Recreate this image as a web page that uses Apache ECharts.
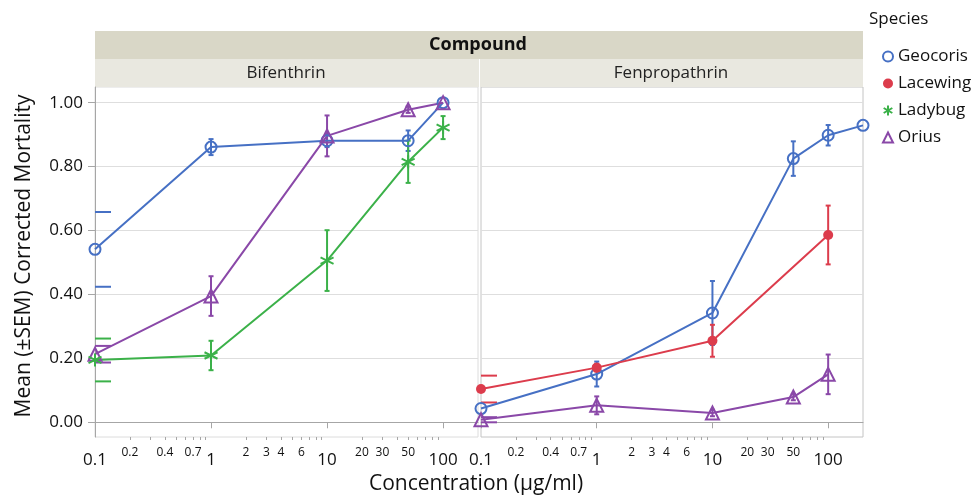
<!DOCTYPE html>
<html><head><meta charset="utf-8">
<script src="https://cdn.jsdelivr.net/npm/echarts@6/dist/echarts.min.js"></script>
<style>html,body{margin:0;padding:0;background:#fff}#c{width:976px;height:498px}</style>
</head><body><div id="c"></div>
<script>
// ---------- data ----------
const speciesNames = ['Geocoris', 'Lacewing', 'Ladybug', 'Orius'];
const compoundNames = ['Bifenthrin', 'Fenpropathrin'];

// Bifenthrin panel
const bifGeocorisConc = [0.1, 1, 10, 50, 100];
const bifGeocorisMean = [0.541, 0.861, 0.881, 0.881, 1.0];
const bifGeocorisSem  = [0.117, 0.025, 0.02, 0.032, 0];
const bifLadybugConc  = [0.1, 1, 10, 50, 100];
const bifLadybugMean  = [0.195, 0.209, 0.506, 0.815, 0.922];
const bifLadybugSem   = [0.067, 0.046, 0.095, 0.066, 0.036];
const bifOriusConc    = [0.1, 1, 10, 50, 100];
const bifOriusMean    = [0.213, 0.395, 0.896, 0.978, 1.0];
const bifOriusSem     = [0.026, 0.062, 0.064, 0.01, 0];

// Fenpropathrin panel
const fenGeocorisConc = [0.1, 1, 10, 50, 100, 200];
const fenGeocorisMean = [0.043, 0.151, 0.342, 0.825, 0.898, 0.929];
const fenGeocorisSem  = [0, 0.039, 0.10, 0.054, 0.032, 0];
const fenLacewingConc = [0.1, 1, 10, 100];
const fenLacewingMean = [0.104, 0.171, 0.255, 0.586];
const fenLacewingSem  = [0.042, 0.012, 0.05, 0.092];
const fenOriusConc    = [0.1, 1, 10, 50, 100];
const fenOriusMean    = [0.008, 0.053, 0.029, 0.079, 0.15];
const fenOriusSem     = [0.008, 0.028, 0.01, 0.01, 0.062];

// axis ticks / labels
const xMin = 0.1, xMax = 200;
const majorTickValues = [0.1, 1, 10, 100];
const minorTickValues = [0.2, 0.3, 0.4, 0.5, 0.6, 0.7, 0.8, 0.9, 2, 3, 4, 5, 6, 7, 8, 9, 20, 30, 40, 50, 60, 70, 80, 90];
const minorLabelValues = [0.2, 0.4, 0.7, 2, 3, 4, 6, 20, 30, 50];
const yTickValues = [0, 0.2, 0.4, 0.6, 0.8, 1.0];
const yMin = -0.046, yMax = 1.049;

// ---------- styles ----------
const FONT = 'Open Sans';
const colors = { Geocoris: '#4670c4', Lacewing: '#dc3c4c', Ladybug: '#3bb149', Orius: '#8a48a8' };
const asterisk = 'path://M10,0 L10,20 M1.34,5 L18.66,15 M1.34,15 L18.66,5';
const symbols = { Geocoris: 'circle', Lacewing: 'circle', Ladybug: asterisk, Orius: 'triangle' };
const symbolSizes = { Geocoris: 11, Lacewing: 10, Ladybug: 13, Orius: 13 };

function zip(c, m, s) { return c.map((v, i) => [v, m[i], s[i]]); }

const panels = [
  { xAxis: 0, yAxis: 0, series: [
    ['Geocoris', zip(bifGeocorisConc, bifGeocorisMean, bifGeocorisSem)],
    ['Orius', zip(bifOriusConc, bifOriusMean, bifOriusSem)],
    ['Ladybug', zip(bifLadybugConc, bifLadybugMean, bifLadybugSem)]
  ]},
  { xAxis: 2, yAxis: 1, series: [
    ['Geocoris', zip(fenGeocorisConc, fenGeocorisMean, fenGeocorisSem)],
    ['Lacewing', zip(fenLacewingConc, fenLacewingMean, fenLacewingSem)],
    ['Orius', zip(fenOriusConc, fenOriusMean, fenOriusSem)]
  ]}
];

const series = [];
panels.forEach(p => {
  p.series.forEach(([name, data]) => {
    const col = colors[name];
    const filled = name === 'Lacewing';
    // mean line + markers
    series.push({
      type: 'line', name: name, xAxisIndex: p.xAxis, yAxisIndex: p.yAxis,
      data: data.map(d => [d[0], d[1]]),
      symbol: symbols[name], symbolSize: symbolSizes[name], showAllSymbol: true,
      lineStyle: { color: col, width: 2 },
      itemStyle: { color: filled ? col : 'rgba(0,0,0,0)', borderColor: col, borderWidth: filled ? 0 : 2 },
      z: 4, animation: false, emphasis: { disabled: true }
    });
    // error bars (mean ± SEM)
    series.push({
      type: 'custom', name: name + ' SEM', xAxisIndex: p.xAxis, yAxisIndex: p.yAxis,
      data: data, z: 3, silent: true,
      itemStyle: { color: col },
      encode: { x: 0, y: 1 },
      renderItem: function (params, api) {
        const x = api.value(0), y = api.value(1), s = api.value(2);
        if (!s) return null;
        const top = api.coord([x, y + s]);
        const bot = api.coord([x, y - s]);
        const atEdge = x === xMin;
        const w = atEdge ? 16 : 2.5;
        const st = { stroke: col, lineWidth: 2 };
        const children = [];
        if (!atEdge) children.push({ type: 'line', shape: { x1: top[0], y1: top[1], x2: bot[0], y2: bot[1] }, style: st });
        children.push({ type: 'line', shape: { x1: atEdge ? top[0] : top[0] - w, y1: top[1], x2: top[0] + w, y2: top[1] }, style: st });
        children.push({ type: 'line', shape: { x1: atEdge ? bot[0] : bot[0] - w, y1: bot[1], x2: bot[0] + w, y2: bot[1] }, style: st });
        return { type: 'group', children: children };
      }
    });
  });
});

function majorAxis(gridIndex) {
  return {
    type: 'log', logBase: 10, gridIndex: gridIndex, min: xMin, max: xMax, position: 'bottom',
    axisLine: { show: true, lineStyle: { color: '#a6a6a6', width: 1 } },
    axisTick: { show: true, length: 6, customValues: majorTickValues, lineStyle: { color: '#a6a6a6' } },
    axisLabel: { customValues: majorTickValues, margin: 15, fontSize: 17, fontFamily: FONT, color: '#111',
      formatter: v => String(+v.toPrecision(3)) },
    splitLine: { show: false }, minorTick: { show: false }
  };
}
function minorAxis(gridIndex) {
  return {
    type: 'log', logBase: 10, gridIndex: gridIndex, min: xMin, max: xMax, position: 'bottom',
    axisLine: { show: false },
    axisTick: { show: true, length: 3, customValues: minorTickValues, lineStyle: { color: '#a6a6a6' } },
    axisLabel: { customValues: minorLabelValues, margin: 10, fontSize: 12, fontFamily: FONT, color: '#111',
      formatter: v => String(+v.toPrecision(3)) },
    splitLine: { show: false }
  };
}
function yAxis(gridIndex, showLabels) {
  return {
    type: 'value', gridIndex: gridIndex, min: yMin, max: yMax,
    axisLine: { show: showLabels, lineStyle: { color: '#a6a6a6' } },
    axisTick: { show: showLabels, length: 7, customValues: yTickValues, lineStyle: { color: '#a6a6a6' } },
    axisLabel: { show: showLabels, customValues: yTickValues, margin: 12, fontSize: 17, fontFamily: FONT, color: '#111',
      formatter: v => v.toFixed(2) },
    splitLine: { show: true, lineStyle: { color: '#dedede', width: 1 } },
    name: showLabels ? 'Mean (±SEM) Corrected Mortality' : '',
    nameLocation: 'middle', nameGap: 60, nameRotate: 90,
    nameTextStyle: { fontSize: 21, fontFamily: FONT, color: '#111', padding: [0, 0, 0, 12] }
  };
}

const legendIcons = { Geocoris: 'circle', Lacewing: 'circle', Ladybug: asterisk, Orius: 'triangle' };

const option = {
  animation: false,
  backgroundColor: '#fff',
  grid: [
    { left: 95, top: 87, width: 383, height: 350, show: true, borderColor: '#dcdcdc', borderWidth: 1, backgroundColor: 'transparent' },
    { left: 481, top: 87, width: 382, height: 350, show: true, borderColor: '#c4c4c4', borderWidth: 1, backgroundColor: 'transparent' }
  ],
  xAxis: [majorAxis(0), minorAxis(0), majorAxis(1), minorAxis(1)],
  yAxis: [yAxis(0, true), yAxis(1, false)],
  legend: {
    orient: 'vertical', left: 877, top: 43, itemWidth: 10, itemHeight: 10, itemGap: 10,
    textStyle: { fontSize: 17, fontFamily: FONT, color: '#111', lineHeight: 17 },
    data: speciesNames.map(n => ({ name: n, icon: legendIcons[n] })),
    selectedMode: false
  },
  graphic: [
    { type: 'rect', shape: { x: 95, y: 31, width: 768, height: 28 }, style: { fill: '#d9d7c7' }, silent: true },
    { type: 'rect', shape: { x: 95, y: 59, width: 384, height: 28 }, style: { fill: '#e9e8e0' }, silent: true },
    { type: 'rect', shape: { x: 480, y: 59, width: 383, height: 28 }, style: { fill: '#e9e8e0' }, silent: true },
    { type: 'text', x: 478, y: 45, style: { text: 'Compound', font: 'bold 18px "Open Sans"', fill: '#111', align: 'center', verticalAlign: 'middle' } },
    { type: 'text', x: 286, y: 73, style: { text: compoundNames[0], font: '17px "Open Sans"', fill: '#222', align: 'center', verticalAlign: 'middle' } },
    { type: 'text', x: 671, y: 73, style: { text: compoundNames[1], font: '17px "Open Sans"', fill: '#222', align: 'center', verticalAlign: 'middle' } },
    { type: 'text', x: 476, y: 484, style: { text: 'Concentration (µg/ml)', font: '21px "Open Sans"', fill: '#111', align: 'center', verticalAlign: 'middle' } },
    { type: 'text', x: 869, y: 19, style: { text: 'Species', font: '17px "Open Sans"', fill: '#111', align: 'left', verticalAlign: 'middle' } }
  ],
  series: series
};

const chart = echarts.init(document.getElementById('c'), null, { renderer: 'canvas' });
chart.setOption(option);
</script></body></html>
